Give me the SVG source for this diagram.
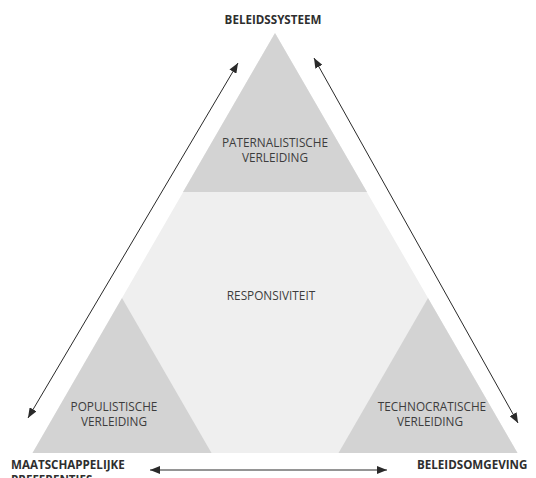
<svg xmlns="http://www.w3.org/2000/svg" width="536" height="478" viewBox="0 0 536 478">
<defs>
<marker id="ah" viewBox="0 0 10 8" refX="10" refY="4" markerWidth="10" markerHeight="8" markerUnits="userSpaceOnUse" orient="auto-start-reverse">
<path d="M0,0 L10,4 L0,8 Z" fill="#2a2a2a"/>
</marker>
<style>
.lbl{font-family:"Open Sans","Liberation Sans",sans-serif;font-size:11.8px;fill:#3c3c3c;text-anchor:middle}
.ttl{font-family:"Open Sans","Liberation Sans",sans-serif;font-size:11.6px;font-weight:bold;fill:#2e2e2e}
.dark{fill:#d3d3d3}
.conn{stroke:#2a2a2a;stroke-width:1;fill:none;marker-start:url(#ah);marker-end:url(#ah)}
</style>
</defs>
<rect width="536" height="478" fill="#ffffff"/>
<g id="responsiviteit">
<polygon points="275,33 517.5,453 32.5,453" fill="#efefef"/>
<text class="lbl" x="271" y="300">RESPONSIVITEIT</text>
</g>
<g id="paternalistische">
<polygon class="dark" points="275,33 367,192 183,192"/>
<text class="lbl" x="275" y="147">PATERNALISTISCHE</text>
<text class="lbl" x="275" y="162">VERLEIDING</text>
</g>
<g id="populistische">
<polygon class="dark" points="122,298 211.5,453 32.5,453"/>
<text class="lbl" x="114" y="411">POPULISTISCHE</text>
<text class="lbl" x="114" y="426">VERLEIDING</text>
</g>
<g id="technocratische">
<polygon class="dark" points="428,298 517.5,453 338.5,453"/>
<text class="lbl" x="432" y="411">TECHNOCRATISCHE</text>
<text class="lbl" x="430" y="426">VERLEIDING</text>
</g>
<g id="beleidssysteem">
<text class="ttl" x="273" y="24" text-anchor="middle">BELEIDSSYSTEEM</text>
</g>
<g id="maatschappelijke">
<text class="ttl" x="11" y="469">MAATSCHAPPELIJKE</text>
<text class="ttl" x="11" y="484">PREFERENTIES</text>
</g>
<g id="beleidsomgeving">
<text class="ttl" x="417" y="469">BELEIDSOMGEVING</text>
</g>
<g id="connectors">
<line class="conn" x1="238" y1="63" x2="28" y2="418"/>
<line class="conn" x1="314" y1="58" x2="518" y2="423"/>
<line class="conn" x1="150" y1="470" x2="387" y2="470"/>
</g>
</svg>
